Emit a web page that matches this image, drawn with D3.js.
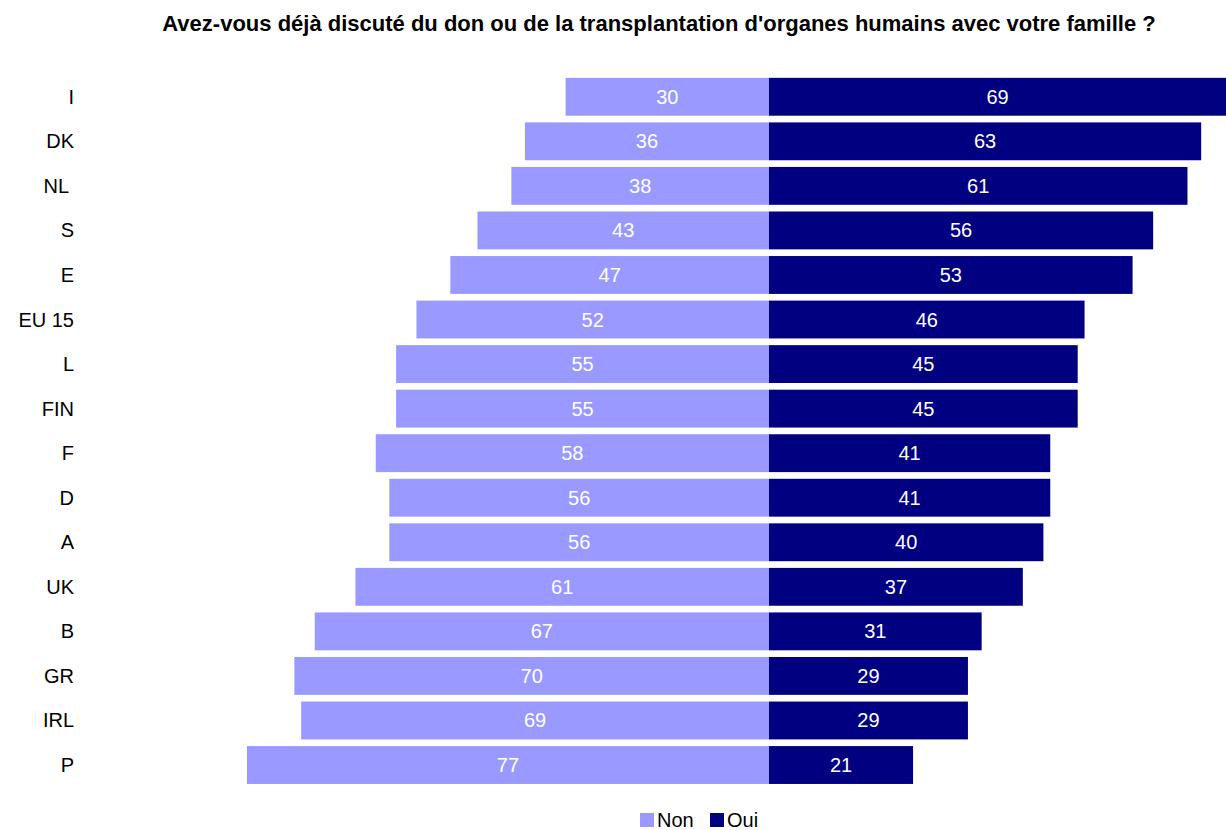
<!DOCTYPE html>
<html>
<head>
<meta charset="utf-8">
<script src="https://cdn.jsdelivr.net/npm/d3@7"></script>
<style>
  body { margin: 0; background: #fff; }
  text { font-family: "Liberation Sans", Arial, sans-serif; }
</style>
</head>
<body>
<svg id="chart"></svg>
<script>
// country codes, top to bottom
var countries = ["I", "DK", "NL ", "S", "E", "EU 15", "L", "FIN", "F", "D", "A", "UK", "B", "GR", "IRL", "P"];
var nonValues = [30, 36, 38, 43, 47, 52, 55, 55, 58, 56, 56, 61, 67, 70, 69, 77];
var ouiValues = [69, 63, 61, 56, 53, 46, 45, 45, 41, 41, 40, 37, 31, 29, 29, 21];
var seriesNames = ["Non", "Oui"];
var seriesColors = ["#9999ff", "#000080"];

var width = 1226, height = 830;
var center = 769;

var svg = d3.select("#chart")
    .attr("width", width)
    .attr("height", height);

svg.append("text")
    .attr("x", 659)
    .attr("y", 31)
    .attr("text-anchor", "middle")
    .style("font-size", "22px")
    .style("font-weight", "bold")
    .text("Avez-vous déjà discuté du don ou de la transplantation d'organes humains avec votre famille ?");

// Non goes left, Oui right, zero in the middle
var x = d3.scaleLinear()
    .domain([-77, 0, 69])
    .range([center - 77 * 6.78, center, center + 69 * 6.86]);

var y = d3.scaleBand()
    .domain(countries)
    .range([74.5, 787.3])
    .paddingInner(0.15)
    .paddingOuter(0.075);

var rows = countries.map(function(c, i) {
  return { name: c, non: nonValues[i], oui: ouiValues[i] };
});

var g = svg.append("g");

// Non bars (left)
g.selectAll("rect.non")
    .data(rows)
    .enter().append("rect")
    .attr("class", "non")
    .attr("x", function(d) { return x(-d.non); })
    .attr("y", function(d) { return y(d.name); })
    .attr("width", function(d) { return x(0) - x(-d.non); })
    .attr("height", y.bandwidth())
    .style("fill", seriesColors[0]);

// Oui bars (right)
g.selectAll("rect.oui")
    .data(rows)
    .enter().append("rect")
    .attr("class", "oui")
    .attr("x", x(0))
    .attr("y", function(d) { return y(d.name); })
    .attr("width", function(d) { return Math.min(x(d.oui), width) - x(0); })
    .attr("height", y.bandwidth())
    .style("fill", seriesColors[1]);

// value labels
g.selectAll("text.nonlab")
    .data(rows)
    .enter().append("text")
    .attr("x", function(d) { return (x(-d.non) + x(0)) / 2; })
    .attr("y", function(d) { return y(d.name) + y.bandwidth() / 2; })
    .attr("dy", ".35em")
    .attr("text-anchor", "middle")
    .style("font-size", "20px")
    .style("fill", "#fff")
    .text(function(d) { return d.non; });

g.selectAll("text.ouilab")
    .data(rows)
    .enter().append("text")
    .attr("x", function(d) { return (Math.min(x(d.oui), width) + x(0)) / 2; })
    .attr("y", function(d) { return y(d.name) + y.bandwidth() / 2; })
    .attr("dy", ".35em")
    .attr("text-anchor", "middle")
    .style("font-size", "20px")
    .style("fill", "#fff")
    .text(function(d) { return d.oui; });

// category labels
g.selectAll("text.cat")
    .data(rows)
    .enter().append("text")
    .attr("x", 74)
    .attr("y", function(d) { return y(d.name) + y.bandwidth() / 2; })
    .attr("dy", ".35em")
    .attr("text-anchor", "end")
    .attr("xml:space", "preserve")
    .style("white-space", "pre")
    .style("font-size", "20px")
    .style("fill", "#000")
    .text(function(d) { return d.name; });

// legend
var legend = svg.append("g").attr("transform", "translate(640,813)");
var lx = [0, 70];
seriesNames.forEach(function(name, i) {
  legend.append("rect")
      .attr("x", lx[i])
      .attr("y", 0)
      .attr("width", 14)
      .attr("height", 14)
      .style("fill", seriesColors[i]);
  legend.append("text")
      .attr("x", lx[i] + 17)
      .attr("y", 14)
      .style("font-size", "20px")
      .text(name);
});
</script>
</body>
</html>
